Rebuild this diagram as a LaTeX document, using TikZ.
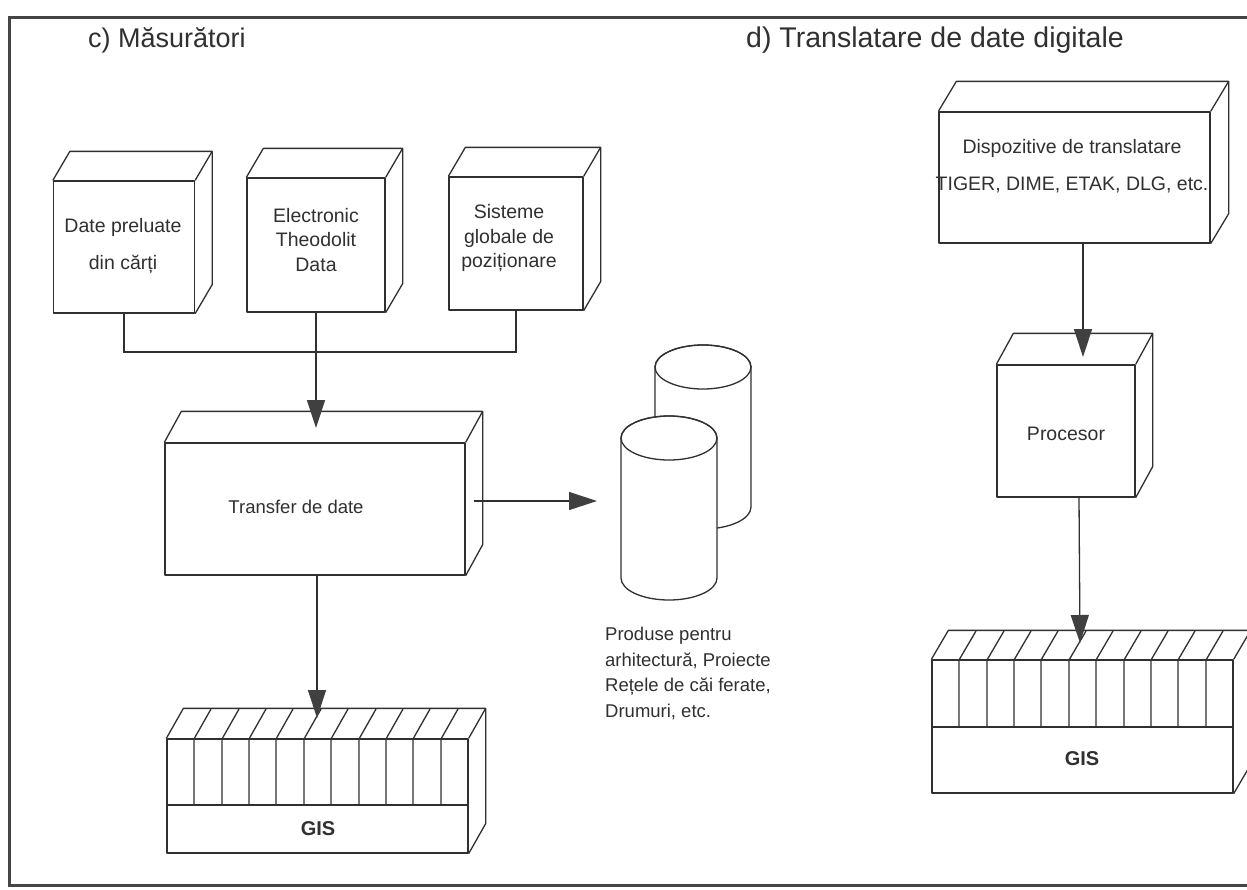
\documentclass[tikz,border=0pt]{standalone}
\usepackage{fontspec}
\setmainfont{Liberation Sans}
\usetikzlibrary{arrows.meta}
\definecolor{ink}{HTML}{303030}
\definecolor{headc}{HTML}{404040}
\newcommand\boxdepth[3]{%
  \draw[boxline] (#1.north west) -- ++(#2,#3) -- ([shift={(#2,#3)}]#1.north east)
     -- ([shift={(#2,#3)}]#1.south east) -- (#1.south east);
  \draw[boxline] (#1.north east) -- ++(#2,#3);}
\tikzset{
  boxline/.style={draw=ink, line width=1.3pt, line join=round},
  front/.style={boxline, rectangle, inner sep=0pt, fill=white},
  txt/.style={text=ink, font=\fontsize{19.5}{24.5}\selectfont, align=center, inner sep=0pt},
  gistxt/.style={text=ink, font=\fontsize{20}{24}\selectfont\bfseries, inner sep=0pt},
  ttl/.style={text=ink, inner sep=0pt, anchor=base west},
  conn/.style={draw=ink, line width=1.3pt},
  arr/.style={conn, -{Triangle[length=28pt,width=18pt,fill=headc,color=headc]}},
  frameline/.style={draw=ink!90, line width=3pt}
}
\begin{document}
\begin{tikzpicture}[x=1pt,y=-1pt]
\useasboundingbox (0,0) rectangle (1247,889);
\fill[white] (0,0) rectangle (1247,889);
% frame
\draw[frameline] (1270,17) -- (9,17) -- (9,885) -- (1270,885);
% titles
\node[ttl, font=\fontsize{27}{30}\selectfont] (tc) at (88,47) {c) Măsurători};
\node[ttl, font=\fontsize{28.5}{32}\selectfont] (td) at (746,47) {d) Translatare de date digitale};

% ---------- c) ----------
\node[front, minimum width=141pt, minimum height=132pt] (b1) at (124,247) {};
\boxdepth{b1}{17}{-29}
\node[txt] (b1t) at (123,246) {Date preluate\\[13pt]din cărți};
\node[front, minimum width=138pt, minimum height=134pt] (b2) at (316,245) {};
\boxdepth{b2}{17}{-29}
\node[txt] (b2t) at (316,240) {Electronic\\Theodolit\\Data};
\node[front, minimum width=134pt, minimum height=133pt] (b3) at (516,243.5) {};
\boxdepth{b3}{17}{-29}
\node[txt] (b3t) at (509,238) {Sisteme\\globale de\\poziționare};

\coordinate (jn) at (316,352);
\draw[conn] (b1.south) |- (jn) -| (b3.south);

\node[front, minimum width=300pt, minimum height=132pt] (tr) at (315,509) {};
\boxdepth{tr}{17}{-31}
\node[txt, font=\fontsize{18.5}{22}\selectfont] (trt) at (296,507) {Transfer de date};
\coordinate (trin) at (316,428);
\draw[arr] (b2.south) -- (trin);

% cylinders
\filldraw[boxline, fill=white] (655,367) -- (655,507)
   arc[start angle=180, end angle=0, x radius=48, y radius=22] -- (751,367)
   arc[start angle=0, end angle=-180, x radius=48, y radius=22] -- cycle;
\draw[boxline] (703,367) ellipse[x radius=48, y radius=22];
\filldraw[boxline, fill=white] (621,438) -- (621,578)
   arc[start angle=180, end angle=0, x radius=48, y radius=22] -- (717,438)
   arc[start angle=0, end angle=-180, x radius=48, y radius=22] -- cycle;
\draw[boxline] (669,438) ellipse[x radius=48, y radius=22];
\coordinate (cyl) at (597,501);
\draw[arr] ([shift={(8,-8)}]tr.east) -- (cyl);

\node[txt, align=left, anchor=north west, font=\fontsize{18.5}{25.5}\selectfont] (prod) at (605,627)
  {Produse pentru\\arhitectură, Proiecte\\Rețele de căi ferate,\\Drumuri, etc.};

% GIS left
\node[front, minimum width=301pt, minimum height=114pt] (gl) at (317.5,796) {};
\boxdepth{gl}{17}{-30}
\draw[boxline] (167,805) -- (468,805);
\foreach \i in {1,...,10} {
  \pgfmathtruncatemacro\xx{167+\i*27.36+0.5}
  \draw[boxline] (\xx,739) -- (\xx,805) (\xx,739) -- ++(17,-30);}
\node[gistxt] (glt) at (318,829) {GIS};
\coordinate (glin) at (317,718);
\draw[arr] ([xshift=2pt]tr.south) -- (glin);

% ---------- d) ----------
\node[front, minimum width=271pt, minimum height=131pt] (dp) at (1074.5,177.5) {};
\boxdepth{dp}{18}{-30}
\node[txt] (dpt) at (1072,166) {Dispozitive de translatare\\[12pt]TIGER, DIME, ETAK, DLG, etc.};

\node[front, minimum width=138pt, minimum height=132pt] (pr) at (1066,431) {};
\boxdepth{pr}{17}{-31}
\node[txt] (prt) at (1066,434) {Procesor};
\coordinate (prin) at (1083,357);
\draw[arr] ([xshift=8.5pt]dp.south) -- (prin);

\node[front, minimum width=301pt, minimum height=133pt] (gr) at (1082.5,726.5) {};
\boxdepth{gr}{17}{-29}
\draw[boxline] (932,727) -- (1233,727);
\foreach \i in {1,...,10} {
  \pgfmathtruncatemacro\xx{932+\i*27.36+0.5}
  \draw[boxline] (\xx,660) -- (\xx,727) (\xx,660) -- ++(17,-29);}
\node[gistxt] (grt) at (1082,759) {GIS};
\coordinate (grin) at (1080,643);
\draw[arr] ([xshift=13pt]pr.south) -- (grin);
\end{tikzpicture}
\end{document}
